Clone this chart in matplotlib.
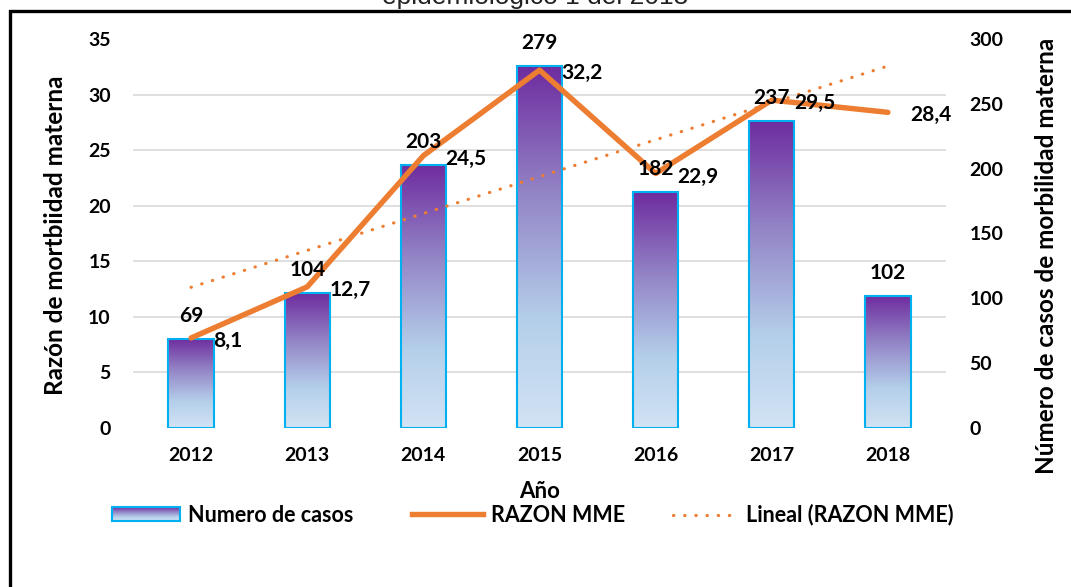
import numpy as np
import matplotlib
matplotlib.use("Agg")
import matplotlib.pyplot as plt
from matplotlib.colors import LinearSegmentedColormap
from matplotlib.patches import Rectangle
from matplotlib.lines import Line2D
from matplotlib.legend_handler import HandlerPatch
from matplotlib.image import BboxImage
from matplotlib.transforms import Bbox, TransformedBbox

# ----------------------------
# datos
# ----------------------------
years = ["2012", "2013", "2014", "2015", "2016", "2017", "2018"]
casos = [69, 104, 203, 279, 182, 237, 102]
razon = [8.1, 12.7, 24.5, 32.2, 22.9, 29.5, 28.4]
razon_labels = ["8,1", "12,7", "24,5", "32,2", "22,9", "29,5", "28,4"]

left_ticks = [0, 5, 10, 15, 20, 25, 30, 35]
right_ticks = [0, 50, 100, 150, 200, 250, 300]

W, H = 1071, 587
ORANGE = "#ED7D31"
EDGE = "#00B0F0"
GRID = "#D9D9D9"
DOTS = (0, (0.1, 3.4))

plt.rcParams["font.family"] = ["Lato", "DejaVu Sans"]
plt.rcParams["font.weight"] = "bold"
plt.rcParams["axes.labelweight"] = "bold"

bar_cmap = LinearSegmentedColormap.from_list(
    "barras", [(0.0, "#D2E3F4"), (0.3, "#B4CFEA"), (0.65, "#9384C6"), (1.0, "#6E2C9F")])
grad = np.linspace(0, 1, 256).reshape(-1, 1)


class GradientHandler(HandlerPatch):
    def create_artists(self, legend, orig_handle, xdescent, ydescent,
                       width, height, fontsize, trans):
        bb = Bbox.from_bounds(-xdescent, -ydescent, width, height)
        img = BboxImage(TransformedBbox(bb, trans), cmap=bar_cmap,
                        origin="lower", interpolation="bilinear")
        img.set_data(grad)
        rect = Rectangle((-xdescent, -ydescent), width, height, facecolor="none",
                         edgecolor=EDGE, lw=1.5, transform=trans)
        return [img, rect]


fig = plt.figure(figsize=(W / 100, H / 100), dpi=100)
ax = fig.add_axes([133 / W, 1 - 428 / H, (946 - 133) / W, (428 - 39) / H])
axl = ax.twinx()

x = np.arange(len(years))
bw = 0.39

# barras (eje derecho)
bars = ax.bar(x, casos, width=bw, facecolor="none", edgecolor=EDGE, lw=1.5, zorder=3)
for b in bars:
    x0, w, h = b.get_x(), b.get_width(), b.get_height()
    im = ax.imshow(grad, cmap=bar_cmap, origin="lower", aspect="auto",
                   extent=[x0, x0 + w, 0, h], zorder=2, interpolation="bilinear")
    im.set_clip_path(b)

ax.set_xlim(-0.5, len(years) - 0.5)
ax.set_ylim(0, 300)
ax.set_yticks(right_ticks)
ax.set_yticks(np.linspace(0, 300, len(left_ticks)), minor=True)
ax.grid(which="minor", axis="y", color=GRID, lw=1.2, zorder=0)
ax.grid(which="major", visible=False)
ax.yaxis.tick_right()
ax.yaxis.set_label_position("right")
ax.set_xticks(x)
ax.set_xticklabels(years)
ax.tick_params(axis="y", which="both", length=0, pad=17, labelsize=14)
ax.tick_params(axis="x", length=0, pad=14, labelsize=14)
for s in ax.spines.values():
    s.set_visible(False)

# linea (eje izquierdo)
axl.plot(x, razon, color=ORANGE, lw=3.9, solid_capstyle="round", solid_joinstyle="round", zorder=4)
coef = np.polyfit(x, razon, 1)
axl.plot(x, np.polyval(coef, x), color=ORANGE, lw=2.3, linestyle=DOTS,
         dash_capstyle="round", zorder=3)
axl.set_ylim(0, 35)
axl.set_yticks(left_ticks)
axl.yaxis.tick_left()
axl.yaxis.set_label_position("left")
axl.tick_params(axis="y", length=0, pad=16, labelsize=14)
for s in axl.spines.values():
    s.set_visible(False)
for lab in ax.get_xticklabels() + ax.get_yticklabels() + axl.get_yticklabels():
    lab.set_fontweight("bold")

# etiquetas
for i, v in enumerate(casos):
    axl.annotate(str(v), xy=(i, v), xycoords=ax.transData, xytext=(0, 23),
                 textcoords="offset pixels", ha="center", va="center", fontsize=15, zorder=6)
for i, v in enumerate(razon):
    axl.annotate(razon_labels[i], xy=(i, v), xycoords=axl.transData, xytext=(22, -3),
                 textcoords="offset pixels", ha="left", va="center", fontsize=15, zorder=6)

axl.set_ylabel("Razón de mortbiidad materna", fontsize=17.5)
axl.yaxis.set_label_coords((56 - 133) / 813, (428 - 235) / 389)
ax.set_ylabel("Número de casos de morbilidad materna", fontsize=17.5, rotation=90)
ax.yaxis.set_label_coords((1047 - 133) / 813, (428 - 256) / 389)
ax.yaxis.label.set_va("center")
axl.yaxis.label.set_va("center")
ax.set_xlabel("Año", fontsize=16)
ax.xaxis.set_label_coords(0.5, (428 - 492) / 389)
ax.xaxis.label.set_va("center")

# leyenda
leg_y = 1 - 515 / H
common = dict(loc="center left", frameon=False, borderpad=0, borderaxespad=0,
              handletextpad=0.37, handleheight=0.6, fontsize=15.5)
fig.legend([Rectangle((0, 0), 1, 1)], ["Numero de casos"],
           handler_map={Rectangle: GradientHandler()}, handlelength=3.16,
           bbox_to_anchor=(112 / W, leg_y), **common)
fig.legend([Line2D([], [], color=ORANGE, lw=3.9)], ["RAZON MME"], handlelength=3.3,
           bbox_to_anchor=(412 / W, leg_y), **common)
fig.legend([Line2D([], [], color=ORANGE, lw=2.3, linestyle=DOTS, dash_capstyle="round")],
           ["Lineal (RAZON MME)"], handlelength=3.0,
           bbox_to_anchor=(673 / W, leg_y), **common)

# marco y titulo cortado
fig.add_artist(Line2D([10 / W, 10 / W, 1], [0, 1 - 11 / H, 1 - 11 / H], color="black", lw=2.4,
                      transform=fig.transFigure, solid_joinstyle="miter"))
fig.text(0.5, 1 - 4 / H, "epidemiologico 1 del 2018", ha="center", va="baseline",
         fontsize=19, fontweight="normal", family=["Liberation Sans", "DejaVu Sans"], color="#222222")

fig.savefig("out.png", dpi=100)
